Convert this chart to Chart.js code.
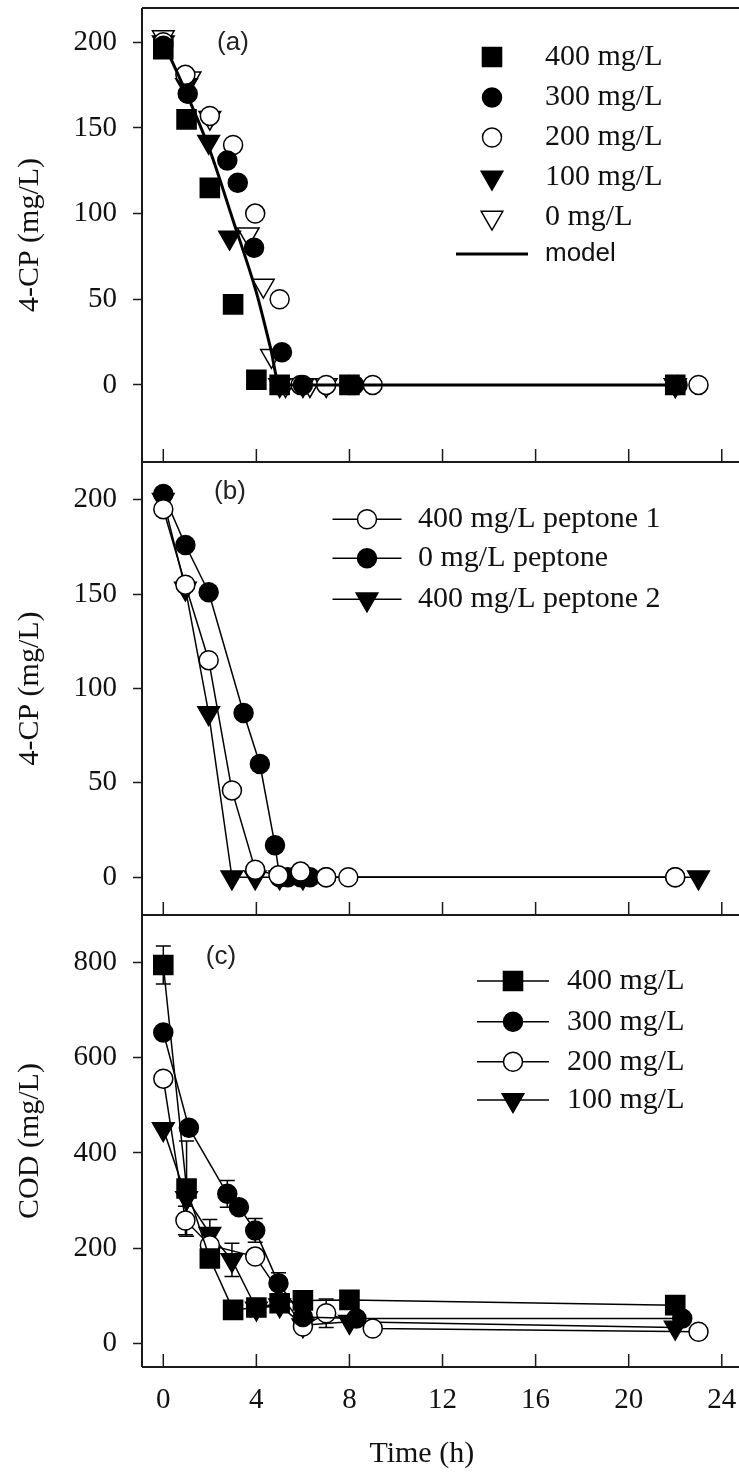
<!DOCTYPE html>
<html>
<head>
<meta charset="utf-8">
<script src="https://cdn.jsdelivr.net/npm/chart.js@4.4.0/dist/chart.umd.min.js"></script>
<style>
  html, body { margin: 0; padding: 0; background: #fff; overflow: hidden; }
  body { width: 739px; height: 1472px; position: relative; }
  canvas { position: absolute; left: 0; }
</style>
</head>
<body>
<canvas id="chartA" width="739" height="480" style="top:0px"></canvas>
<canvas id="chartB" width="739" height="495" style="top:440px"></canvas>
<canvas id="chartC" width="739" height="577" style="top:895px"></canvas>
<script>
// shared time axis (h)
const timeTicks = [0, 4, 8, 12, 16, 20, 24];

// (a) 4-CP at different peptone levels + model
const aLabels = ['400 mg/L', '300 mg/L', '200 mg/L', '100 mg/L', '0 mg/L', 'model'];
const aTime400 = [0, 1, 2, 3, 4, 5, 8, 22];
const aCp400   = [196, 155, 115, 47, 3, 0, 0, 0];
const aTime300 = [0, 1.05, 2.75, 3.2, 3.9, 5.1, 6, 8.2, 22.1];
const aCp300   = [198, 170, 131, 118, 80, 19, 0, 0, 0];
const aTime200 = [0, 0.95, 2, 3, 3.95, 5, 5.9, 7, 8, 9, 23];
const aCp200   = [200, 181, 157, 140, 100, 50, 0, 0, 0, 0, 0];
const aTime100 = [0, 1, 1.95, 2.85, 5, 6, 22];
const aCp100   = [200, 175, 142, 86, 0, 0, 0];
const aTime0   = [0, 1.15, 2, 3.65, 4.3, 4.65, 5.25, 6.3, 7, 22];
const aCp0     = [203, 179, 156, 88, 58, 17, 0, 0, 0, 0];
const modelTime = [0, 1, 2, 3, 4, 4.6, 5, 22];
const modelCp   = [200, 170, 137, 96, 54, 22, 0, 0];

// (b) 4-CP, peptone runs
const bLabels = ['400 mg/L peptone 1', '0 mg/L peptone', '400 mg/L peptone 2'];
const bTimeP1 = [0, 0.95, 1.95, 2.95, 3.95, 4.95, 5.9, 7, 7.95, 22];
const bCpP1   = [195, 155, 115, 46, 4, 1, 3, 0, 0, 0];
const bTimeP0 = [0, 0.95, 1.95, 3.45, 4.15, 4.8, 5, 5.35, 5.9, 6.3, 7, 22];
const bCpP0   = [203, 176, 151, 87, 60, 17, 0, 0, 0, 0, 0, 0];
const bTimeP2 = [0, 0.95, 1.95, 2.95, 3.95, 5, 6, 23];
const bCpP2   = [200, 153, 87, 0, 0, 0, 0, 0];

// (c) COD
const cLabels = ['400 mg/L', '300 mg/L', '200 mg/L', '100 mg/L'];
const cTime400 = [0, 1, 2, 3, 4, 5, 6, 8, 22];
const cCod400  = [795, 325, 178, 70, 75, 84, 90, 91, 80];
const cErr400  = [40, 100, 0, 0, 0, 0, 0, 0, 0];
const cTime300 = [0, 1.1, 2.75, 3.25, 3.95, 4.95, 6, 8.3, 22.3];
const cCod300  = [653, 453, 314, 286, 237, 126, 55, 52, 52];
const cErr300  = [0, 0, 28, 0, 25, 22, 0, 0, 0];
const cTime200 = [0, 0.95, 2, 3.95, 6, 7, 9, 23];
const cCod200  = [556, 258, 206, 182, 35, 63, 31, 24];
const cErr200  = [0, 30, 0, 0, 0, 30, 0, 0];
const cTime100 = [0, 1, 2, 2.95, 4, 5, 6, 8, 22];
const cCod100  = [450, 305, 230, 175, 73, 80, 38, 45, 33];
const cErr100  = [0, 0, 30, 35, 0, 0, 0, 0, 0];

Chart.defaults.font.family = "'Liberation Serif', 'Times New Roman', serif";
Chart.defaults.color = '#111';

const markers = {
  square:  { pointStyle: 'rect', pointRadius: 13.5, pointRotation: 0, fill: '#000' },
  dot:     { pointStyle: 'circle', pointRadius: 9.5, pointRotation: 0, fill: '#000' },
  ring:    { pointStyle: 'circle', pointRadius: 9.5, pointRotation: 0, fill: '#fff' },
  tri:     { pointStyle: 'triangle', pointRadius: 12.5, pointRotation: 180, fill: '#000' },
  openTri: { pointStyle: 'triangle', pointRadius: 12.5, pointRotation: 180, fill: '#fff' }
};

function pts(xs, ys) {
  return xs.map((x, i) => ({ x, y: ys[i] }));
}

function series(label, xs, ys, mark, withLine, errs) {
  let m = markers[mark];
  return {
    label,
    data: pts(xs, ys),
    errors: errs,
    showLine: withLine,
    borderColor: '#000',
    borderWidth: 1.5,
    pointStyle: m.pointStyle,
    pointRadius: m.pointRadius,
    pointHoverRadius: m.pointRadius,
    pointRotation: m.pointRotation,
    pointBackgroundColor: m.fill,
    pointBorderColor: '#000',
    pointBorderWidth: 1.5
  };
}

function drawMark(ctx, ds, x, y) {
  ctx.fillStyle = ds.pointBackgroundColor;
  ctx.strokeStyle = ds.pointBorderColor;
  ctx.lineWidth = ds.pointBorderWidth;
  Chart.helpers.drawPoint(ctx, {
    pointStyle: ds.pointStyle,
    radius: ds.pointRadius,
    rotation: ds.pointRotation,
    borderWidth: ds.pointBorderWidth
  }, x, y);
}

// scales must not ask the layout for room around their labels
function noPadding(s) {
  s.paddingTop = 0;
  s.paddingBottom = 0;
  s.paddingLeft = 0;
  s.paddingRight = 0;
}

// box lines, inward time ticks and the panel tag
const frame = {
  id: 'frame',
  afterDraw(chart, args, o) {
    let { ctx, chartArea: a, scales } = chart;
    ctx.save();
    ctx.strokeStyle = '#1a1a1a';
    ctx.lineWidth = 2;
    ctx.beginPath();
    ctx.moveTo(a.left, a.top); ctx.lineTo(a.right + 2, a.top);
    ctx.moveTo(a.left, a.top); ctx.lineTo(a.left, a.bottom);
    ctx.moveTo(a.left, a.bottom); ctx.lineTo(a.right + 2, a.bottom);
    ctx.stroke();
    ctx.lineWidth = 1.5;
    ctx.beginPath();
    timeTicks.forEach(v => {
      let x = scales.x.getPixelForValue(v);
      ctx.moveTo(x, a.bottom); ctx.lineTo(x, a.bottom - 13);
    });
    ctx.stroke();
    ctx.fillStyle = '#222';
    ctx.font = "26px 'Liberation Sans', Arial, sans-serif";
    ctx.textAlign = 'center';
    ctx.textBaseline = 'middle';
    ctx.fillText(o.tag, o.tagX, o.tagY);
    ctx.restore();
  }
};

const keyBox = {
  id: 'keyBox',
  afterDraw(chart, args, o) {
    let ctx = chart.ctx;
    ctx.save();
    chart.data.datasets.forEach((ds, i) => {
      let y = o.rows[i];
      if (ds.showLine) {
        ctx.strokeStyle = '#000';
        ctx.lineWidth = ds.borderWidth;
        ctx.beginPath();
        ctx.moveTo(o.x - o.half, y); ctx.lineTo(o.x + o.half, y);
        ctx.stroke();
      }
      if (ds.pointRadius > 0) drawMark(ctx, ds, o.x, y);
      ctx.fillStyle = '#111';
      ctx.font = ds.keyFont || "30px 'Liberation Serif', 'Times New Roman', serif";
      ctx.textAlign = 'left';
      ctx.textBaseline = 'middle';
      ctx.fillText(ds.label, o.textX, y);
    });
    ctx.restore();
  }
};

const errorBars = {
  id: 'errorBars',
  beforeDatasetsDraw(chart) {
    let { ctx, scales } = chart;
    ctx.save();
    ctx.strokeStyle = '#000';
    ctx.lineWidth = 1.5;
    chart.data.datasets.forEach((ds, i) => {
      if (!ds.errors) return;
      let meta = chart.getDatasetMeta(i);
      ds.errors.forEach((e, j) => {
        if (!e) return;
        let x = meta.data[j].x;
        let v = ds.data[j].y;
        let top = scales.y.getPixelForValue(v + e);
        let bot = scales.y.getPixelForValue(v - e);
        ctx.beginPath();
        ctx.moveTo(x, top); ctx.lineTo(x, bot);
        ctx.moveTo(x - 7.5, top); ctx.lineTo(x + 7.5, top);
        ctx.moveTo(x - 7.5, bot); ctx.lineTo(x + 7.5, bot);
        ctx.stroke();
      });
    });
    ctx.restore();
  }
};

function timeScale(withLabels) {
  return {
    type: 'linear',
    min: -0.915,
    max: 24.74,
    afterFit: s => { s.height = withLabels ? 105 : 0; noPadding(s); },
    grid: { display: false, drawTicks: false },
    border: { display: false },
    ticks: { display: withLabels, stepSize: 4, includeBounds: false, padding: 16, color: '#111', font: { size: 29 } },
    title: { display: withLabels, text: 'Time (h)     ', color: '#111', font: { size: 30 }, padding: { top: 0, bottom: 0 } }
  };
}

function valueScale(min, max, step, title) {
  return {
    type: 'linear',
    min, max,
    afterFit: s => { s.width = 142; noPadding(s); },
    border: { display: false },
    grid: { drawOnChartArea: false, drawTicks: true, tickLength: 9, tickColor: '#1a1a1a', tickWidth: 1.5 },
    ticks: { stepSize: step, includeBounds: false, padding: 16, color: '#111', font: { size: 29 } },
    title: { display: true, text: title, color: '#111', font: { size: 30 }, padding: { top: 12, bottom: 0 } }
  };
}

function makeChart(id, datasets, yScale, withLabels, padding, tagOpts, keyOpts, extra) {
  return new Chart(document.getElementById(id), {
    type: 'scatter',
    data: { datasets },
    options: {
      responsive: false,
      animation: false,
      events: [],
      layout: { padding, autoPadding: false },
      scales: { x: timeScale(withLabels), y: yScale },
      plugins: {
        legend: { display: false },
        tooltip: { enabled: false },
        frame: tagOpts,
        keyBox: keyOpts
      }
    },
    plugins: [frame, keyBox].concat(extra || [])
  });
}

// panel (a)
let model = series(aLabels[5], modelTime, modelCp, 'dot', true);
model.pointRadius = 0;
model.pointHoverRadius = 0;
model.borderWidth = 3;
model.cubicInterpolationMode = 'monotone';
model.order = -1;
model.keyFont = "26px 'Liberation Sans', Arial, sans-serif";

makeChart('chartA', [
  series(aLabels[0], aTime400, aCp400, 'square', false),
  series(aLabels[1], aTime300, aCp300, 'dot', false),
  series(aLabels[2], aTime200, aCp200, 'ring', false),
  series(aLabels[3], aTime100, aCp100, 'tri', false),
  series(aLabels[4], aTime0, aCp0, 'openTri', false),
  model
], valueScale(-45, 220, 50, '4-CP (mg/L)'), false,
  { top: 8, bottom: 18, left: 0, right: 0 },
  { tag: '(a)', tagX: 233, tagY: 43 },
  { x: 492, half: 36, textX: 545, rows: [57, 97.5, 137.5, 177.5, 217.5, 254] });

// panel (b)
makeChart('chartB', [
  series(bLabels[0], bTimeP1, bCpP1, 'ring', true),
  series(bLabels[1], bTimeP0, bCpP0, 'dot', true),
  series(bLabels[2], bTimeP2, bCpP2, 'tri', true)
], valueScale(-20, 220, 50, '4-CP (mg/L)'), false,
  { top: 22, bottom: 20, left: 0, right: 0 },
  { tag: '(b)', tagX: 230, tagY: 52 },
  { x: 367, half: 34.5, textX: 418, rows: [79.3, 118.3, 159.3] });

// panel (c)
makeChart('chartC', [
  series(cLabels[0], cTime400, cCod400, 'square', true, cErr400),
  series(cLabels[1], cTime300, cCod300, 'dot', true, cErr300),
  series(cLabels[2], cTime200, cCod200, 'ring', true, cErr200),
  series(cLabels[3], cTime100, cCod100, 'tri', true, cErr100)
], valueScale(-50, 900, 200, 'COD (mg/L)'), true,
  { top: 20, bottom: 0, left: 0, right: 0 },
  { tag: '(c)', tagX: 221, tagY: 62 },
  { x: 513, half: 36, textX: 567, rows: [86, 126.7, 166.7, 205] },
  [errorBars]);
</script>
</body>
</html>
